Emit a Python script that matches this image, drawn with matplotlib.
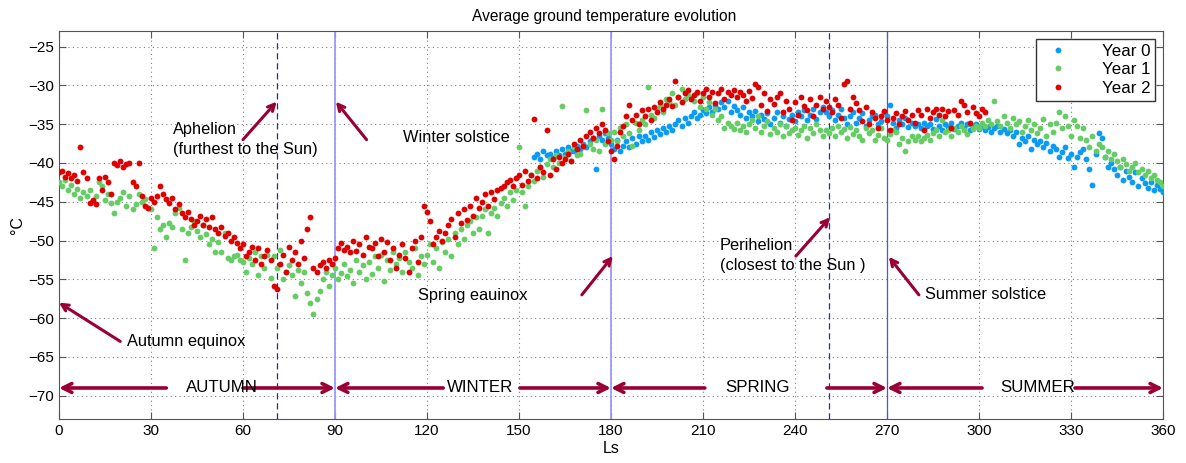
"""
Average ground temperature over three Mars years against solar longitude (Ls)
"""

import numpy as np
import matplotlib.pyplot as plt

plt.rcParams['font.family'] = ['Liberation Sans', 'DejaVu Sans']
plt.rcParams['font.size'] = 11

# Ls where each record starts (one value per degree of Ls)
start_year0 = 155
start_year1 = 0
start_year2 = 0

temp_year0 = [
    -39.2, -38.8, -39.5, -38.5, -39.0,
    -38.8, -39.3, -38.5, -39.0, -38.2, -38.8, -38.0, -38.5, -38.5, -37.8,
    -38.2, -37.5, -38.0, -37.2, -36.8, -40.8, -36.5, -37.0, -36.2, -36.8,
    -37.5, -38.2, -37.0, -38.5, -37.8, -37.2, -38.0, -36.8, -37.5, -36.5,
    -37.2, -36.5, -37.0, -36.0, -36.6, -35.8, -36.3, -35.5, -36.0, -35.2,
    -35.8, -35.0, -34.5, -35.2, -34.2, -34.8, -34.0, -33.5, -34.2, -33.8,
    -33.2, -33.6, -32.8, -33.4, -32.5, -33.0, -32.2, -32.8, -32.0, -33.5,
    -32.6, -33.2, -33.8, -32.8, -34.2, -33.5, -34.0, -33.3, -34.6, -33.8,
    -34.4, -33.6, -35.0, -34.2, -33.5, -34.8, -34.0, -35.2, -34.3, -33.8,
    -34.6, -33.5, -34.0, -33.2, -34.5, -33.8, -33.0, -34.3, -33.5, -32.8,
    -33.5, -34.0, -33.2, -34.5, -33.8, -33.0, -34.2, -35.0, -34.0, -33.5,
    -34.8, -34.2, -33.6, -35.2, -34.5, -34.0, -33.8, -35.0, -34.6, -33.5,
    -34.0, -32.5, -34.8, -35.5, -34.5, -35.0, -34.2, -35.4, -34.8, -35.2,
    -35.0, -35.5, -34.8, -35.3, -35.0, -35.6, -34.4, -35.2, -35.8, -35.0,
    -35.4, -34.8, -35.6, -35.2, -34.9, -35.5, -35.0, -35.8, -35.3, -35.0,
    -35.6, -35.2, -35.8, -35.4, -36.0, -35.5, -35.2, -36.0, -35.6, -36.2,
    -35.8, -36.5, -36.0, -37.5, -36.8, -37.2, -36.5, -38.2, -37.0, -37.6,
    -37.2, -38.0, -37.4, -38.5, -37.8, -38.2, -39.2, -38.6, -38.0, -39.4,
    -38.8, -40.5, -39.2, -38.6, -38.2, -39.5, -40.8, -42.8, -38.8, -36.2,
    -36.8, -39.2, -40.5, -40.0, -40.8, -41.5, -40.5, -42.2, -41.0, -41.8,
    -42.5, -41.2, -43.0, -42.0, -42.6, -43.2, -42.4, -43.5, -42.8, -43.4,
    -43.8,
]

temp_year1 = [
    -42.5, -43.0, -42.2, -43.5, -42.8, -44.0, -43.3, -44.5, -43.8, -44.2,
    -43.5, -45.0, -44.2, -42.5, -43.0, -44.8, -44.0, -45.2, -46.5, -45.0,
    -44.5, -43.8, -45.5, -44.2, -46.0, -45.3, -44.0, -45.0, -44.6, -45.8,
    -46.0, -51.0, -47.0, -48.5, -48.0, -49.5, -47.8, -48.3, -46.5, -45.8,
    -48.5, -52.5, -49.0, -48.2, -47.5, -48.8, -49.5, -48.0, -49.2, -50.5,
    -49.8, -51.5, -50.2, -51.5, -49.0, -52.2, -52.5, -52.0, -51.8, -52.5,
    -52.8, -54.0, -52.2, -53.0, -51.5, -54.5, -52.0, -53.5, -51.8, -54.8,
    -52.0, -53.5, -51.2, -55.0, -54.0, -53.2, -54.5, -57.2, -53.8, -55.5,
    -54.0, -56.8, -58.0, -59.5, -57.5, -56.5, -55.0, -54.0, -55.8, -54.5,
    -53.5, -55.0, -54.2, -53.0, -54.6, -53.8, -55.5, -52.5, -54.0, -53.2,
    -55.0, -52.8, -54.3, -52.0, -53.5, -51.8, -55.2, -52.5, -53.8, -51.5,
    -53.0, -52.2, -54.0, -51.5, -52.8, -53.5, -51.0, -54.5, -52.0, -53.0,
    -51.8, -50.5, -52.8, -51.0, -53.5, -50.2, -51.5, -49.8, -52.0, -49.0,
    -50.5, -48.5, -49.8, -48.0, -47.5, -49.0, -47.0, -48.5, -46.8, -46.0,
    -49.0, -46.5, -45.8, -46.8, -45.2, -44.5, -45.5, -43.8, -44.8, -43.5,
    -37.9, -43.8, -45.6, -43.0, -41.5, -42.3, -41.0, -40.5, -41.8, -40.2,
    -39.5, -40.5, -39.0, -40.0, -32.6, -39.2, -38.5, -39.8, -38.0, -39.0,
    -38.8, -37.8, -33.2, -37.5, -38.2, -37.0, -38.5, -33.1, -37.5, -36.2,
    -37.0, -36.0, -37.2, -35.5, -36.5, -35.0, -36.2, -37.8, -34.8, -35.8,
    -34.5, -35.0, -30.2, -33.8, -34.2, -33.0, -32.5, -33.5, -31.8, -32.2,
    -31.0, -32.5, -31.5, -30.5, -31.8, -31.2, -31.6, -32.0, -31.0, -32.8,
    -31.5, -33.0, -32.2, -33.8, -33.0, -34.5, -34.0, -35.5, -34.8, -35.3,
    -35.6, -34.8, -35.8, -35.2, -36.0, -35.0, -34.5, -35.5, -34.0, -36.0,
    -35.2, -34.6, -36.3, -35.5, -36.0, -35.0, -36.5, -35.2, -36.2, -35.8,
    -35.5, -36.4, -35.8, -35.2, -36.8, -35.5, -36.2, -35.0, -35.8, -36.5,
    -35.8, -36.2, -35.5, -36.5, -35.3, -36.0, -35.6, -36.8, -35.4, -36.3,
    -35.8, -36.5, -37.0, -35.5, -36.2, -35.8, -37.0, -36.4, -35.5, -36.8,
    -37.0, -36.3, -35.8, -36.0, -37.5, -36.8, -38.5, -37.2, -36.5, -37.0,
    -36.5, -37.2, -36.8, -36.4, -37.0, -36.2, -35.8, -36.5, -34.5, -36.0,
    -35.8, -36.5, -35.5, -36.0, -35.2, -35.8, -36.3, -35.0, -35.6, -35.2,
    -35.5, -34.8, -35.3, -34.5, -35.0, -32.0, -34.6, -35.2, -34.0, -34.8,
    -35.5, -34.2, -35.0, -34.6, -36.0, -35.2, -34.5, -35.8, -35.0, -36.2,
    -35.5, -34.3, -36.5, -35.0, -36.0, -34.8, -33.5, -35.5, -34.0, -35.3,
    -36.5, -34.5, -35.2, -36.8, -35.5, -37.0, -38.0, -36.5, -38.5, -37.5,
    -38.0, -39.2, -38.5, -39.5, -38.8, -39.8, -40.5, -39.5, -40.2, -41.0,
    -40.5, -40.0, -41.2, -40.8, -41.5, -41.0, -42.0, -41.5, -42.2, -42.5,
    -43.0,
]

temp_year2 = [
    -41.2, -41.0, -41.8, -41.3, -42.0, -41.5, -42.3, -38.0, -41.2, -42.0,
    -45.2, -44.8, -45.3, -42.0, -43.5, -41.8, -42.5, -44.0, -40.0, -40.3,
    -39.8, -40.5, -40.2, -40.0, -42.5, -43.0, -40.0, -44.2, -45.5, -45.8,
    -44.5, -45.0, -44.3, -43.0, -44.0, -44.6, -45.2, -44.5, -46.0, -45.3,
    -46.5, -47.0, -46.3, -47.2, -48.0, -47.5, -46.8, -48.0, -47.2, -48.2,
    -47.0, -48.5, -49.0, -48.3, -49.4, -49.0, -50.0, -49.5, -50.3, -51.0,
    -50.5, -52.0, -51.5, -50.8, -52.5, -51.0, -53.0, -52.0, -51.2, -52.5,
    -55.8, -56.3, -53.0, -51.8, -54.0, -50.8, -52.5, -51.5, -53.0, -50.0,
    -52.3, -48.5, -47.0, -53.5, -54.0, -53.2, -52.8, -53.6, -52.5, -53.0,
    -52.3, -51.0, -50.3, -51.2, -50.8, -51.5, -50.0, -51.3, -50.5, -51.8,
    -49.5, -50.8, -51.0, -50.3, -52.0, -49.8, -51.5, -50.2, -52.5, -51.0,
    -53.5, -51.8, -50.5, -52.2, -54.0, -51.0, -50.0, -52.8, -49.5, -45.5,
    -46.3, -47.5, -50.5, -49.5, -48.8, -50.0, -49.0, -48.0, -47.2, -49.5,
    -46.5, -47.8, -46.0, -47.3, -45.5, -46.8, -44.5, -45.8, -45.0, -44.0,
    -45.5, -43.8, -44.6, -43.5, -43.2, -43.0, -42.5, -42.2, -43.0, -42.0,
    -41.5, -42.8, -41.0, -42.3, -41.5, -34.3, -42.0, -40.5, -41.2, -35.8,
    -41.5, -39.5, -40.8, -39.2, -40.0, -39.5, -38.8, -39.8, -37.5, -38.2,
    -37.0, -37.8, -36.5, -36.0, -36.8, -35.5, -36.2, -35.0, -35.8, -37.2,
    -38.5, -39.5, -37.8, -36.0, -35.3, -34.0, -32.5, -34.5, -33.8, -35.0,
    -33.2, -34.0, -33.0, -34.5, -32.8, -33.5, -32.2, -33.0, -32.5, -31.8,
    -32.6, -29.5, -31.5, -32.2, -31.0, -30.6, -31.8, -31.2, -30.8, -32.0,
    -31.0, -30.5, -31.5, -30.8, -32.3, -31.0, -30.5, -31.8, -30.9, -31.3,
    -30.6, -31.5, -30.8, -31.2, -32.0, -30.7, -31.6, -29.8, -30.2, -32.5,
    -31.0, -33.3, -31.8, -32.4, -31.5, -31.0, -33.5, -32.0, -33.0, -34.5,
    -32.2, -33.8, -31.5, -32.6, -33.2, -31.8, -34.0, -32.5, -31.5, -33.0,
    -32.0, -32.8, -33.5, -31.8, -32.5, -34.2, -29.8, -29.4, -33.0, -31.5,
    -32.3, -33.2, -34.6, -32.8, -35.0, -33.5, -34.2, -35.5, -34.0, -33.3,
    -34.5, -35.8, -34.2, -33.6, -35.0, -34.0, -33.3, -34.5, -33.8, -34.8,
    -33.2, -33.8, -35.7, -33.0, -34.2, -33.5, -33.0, -33.8, -33.0, -34.0,
    -33.3, -35.5, -33.2, -33.8, -32.0, -32.5, -33.5, -34.8, -32.8, -33.6,
    -34.0, -33.0, -33.5,
]

series_labels = ['Year 0', 'Year 1', 'Year 2']
series_colors = ['#0a9bf5', '#66cc66', '#e00000']

# events on the Ls axis
aphelion_ls = 71
perihelion_ls = 251
season_ls = [90, 180, 270]

season_names = ['AUTUMN', 'WINTER', 'SPRING', 'SUMMER']
season_bounds = [0, 90, 180, 270, 360]
season_text_ls = [53.3, 137.3, 227.7, 319.2]
# where the arrow shafts stop on each side of the season name
season_gap = [(35, 60), (125.3, 150.3), (210.6, 250.4), (301, 331.3)]

arrow_color = '#990033'

fig = plt.figure(figsize=(11.86, 4.63), dpi=100)
ax = fig.add_axes([0.0497, 0.095, 0.9309, 0.838])

starts = [start_year0, start_year1, start_year2]
temps = [temp_year0, temp_year1, temp_year2]
for start, t, label, color in zip(starts, temps, series_labels, series_colors):
    ls = np.arange(start, start + len(t))
    ax.plot(ls, t, linestyle='none', marker='o', markersize=4.2,
            markeredgewidth=0, color=color, label=label, zorder=3)

# vertical reference lines
ax.axvline(aphelion_ls, color='#2a2a80', linestyle=(0, (5, 3)), linewidth=0.9, zorder=2)
ax.axvline(perihelion_ls, color='#2424d8', linestyle=(0, (5, 3)), linewidth=0.9, zorder=2)
ax.axvline(season_ls[0], color='#9a9aff', linewidth=1.3, zorder=2)
ax.axvline(season_ls[1], color='#9a9aff', linewidth=1.3, zorder=2)
ax.axvline(season_ls[2], color='#5050f0', linewidth=0.9, zorder=2)

# season arrows
season_y = -69
for i, name in enumerate(season_names):
    left, right = season_gap[i]
    for tail, head in ((left, season_bounds[i]), (right, season_bounds[i + 1])):
        ax.annotate('', xy=(head, season_y), xytext=(tail, season_y),
                    arrowprops=dict(arrowstyle='->', color=arrow_color, lw=2.6,
                                    mutation_scale=16, shrinkA=0, shrinkB=0),
                    annotation_clip=False, zorder=4)
    ax.text(season_text_ls[i], season_y, name, ha='center', va='center',
            fontsize=12.2, zorder=5)

# event annotations: (text, text position, arrow tail, arrow head)
events = [
    ('Autumn equinox', (22.2, -63.0), (20, -63.0), (0, -58.0)),
    ('Aphelion\n(furthest to the Sun)', (37.2, -37.0), (60, -37.0), (71, -32.1)),
    ('Winter solstice', (112.2, -36.7), (100.3, -37.0), (90.3, -32.1)),
    ('Spring eauinox', (117.0, -57.1), (170.5, -57.0), (180.6, -52.0)),
    ('Perihelion\n(closest to the Sun )', (215.5, -51.9), (240.3, -52.0), (251.5, -47.0)),
    ('Summer solstice', (282.4, -57.0), (280.4, -57.0), (270.6, -52.1)),
]
for text, pos, tail, head in events:
    ax.annotate('', xy=head, xytext=tail,
                arrowprops=dict(arrowstyle='->', color=arrow_color, lw=2.2,
                                mutation_scale=12, shrinkA=0, shrinkB=0),
                annotation_clip=False, zorder=4)
    ax.text(pos[0], pos[1], text, ha='left', va='center', fontsize=11.8,
            linespacing=1.4, zorder=5)

ax.set_xlim(0, 360)
ax.set_ylim(-73, -23)
ax.set_xticks(np.arange(0, 361, 30))
ax.set_yticks(np.arange(-70, -24, 5))
ax.grid(True, linestyle=(0, (1, 3)), color='#808080', linewidth=0.8)
ax.tick_params(direction='in', length=5, top=True, right=True,
               color='#555555', labelsize=11)
for spine in ax.spines.values():
    spine.set_color('#555555')

ax.set_title('Average ground temperature evolution', fontsize=11.2, pad=7, x=0.494)
ax.set_xlabel('Ls', fontsize=11.5, labelpad=2)
ax.set_ylabel('°C', fontsize=11.5, labelpad=2)

leg = ax.legend(loc='upper right', fancybox=False, framealpha=1,
                edgecolor='#333333', fontsize=12.2, handletextpad=1.6,
                borderaxespad=0.45, labelspacing=0.2, borderpad=0.3,
                markerscale=1.0)
leg.get_frame().set_linewidth(1.0)

plt.savefig('out.png', dpi=100)
